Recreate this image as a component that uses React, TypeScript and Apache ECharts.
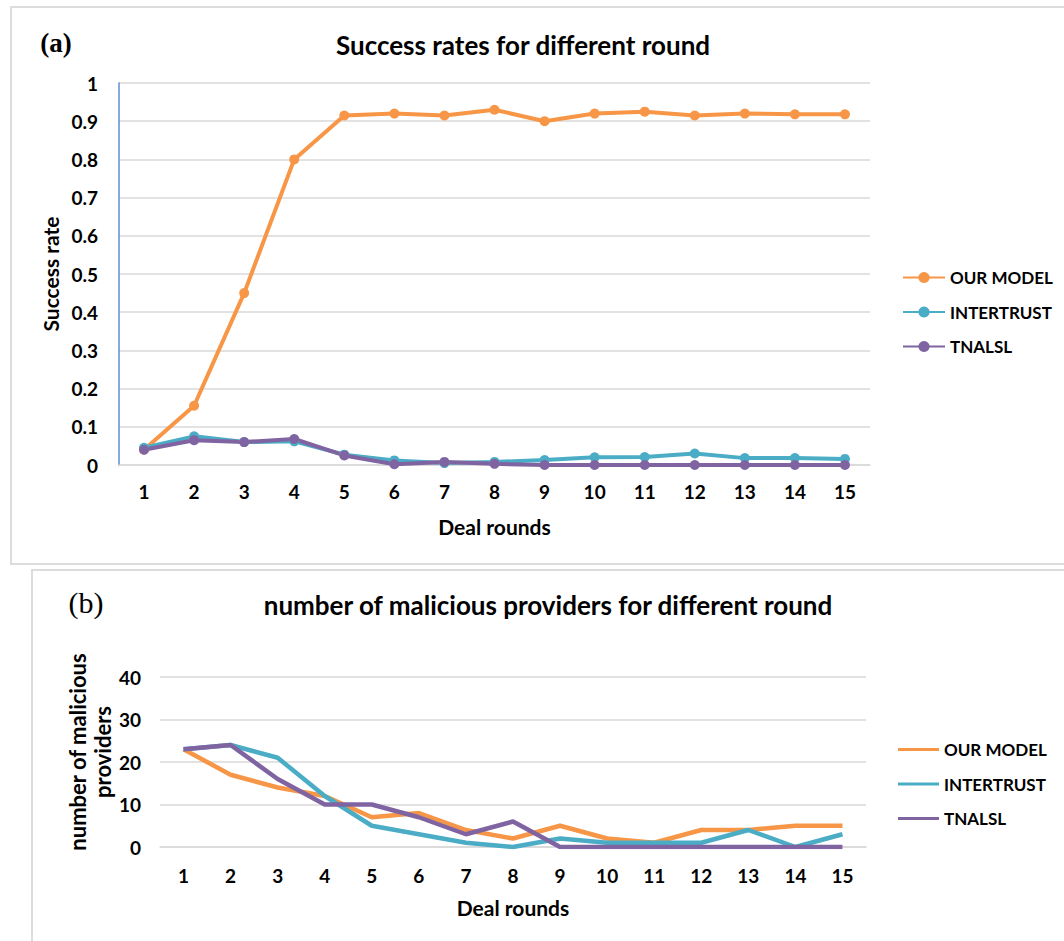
import React, { useEffect, useRef } from "react";
import * as echarts from "echarts";

const rounds = ["1", "2", "3", "4", "5", "6", "7", "8", "9", "10", "11", "12", "13", "14", "15"];
const seriesNames = ["OUR MODEL", "INTERTRUST", "TNALSL"];
const colors = ["#F79646", "#4BACC6", "#8064A2"];

const successOurModel = [0.04, 0.155, 0.45, 0.8, 0.915, 0.92, 0.915, 0.93, 0.9, 0.92, 0.925, 0.915, 0.92, 0.918, 0.918];
const successIntertrust = [0.045, 0.075, 0.06, 0.062, 0.027, 0.012, 0.005, 0.008, 0.013, 0.02, 0.021, 0.03, 0.018, 0.018, 0.016];
const successTnalsl = [0.04, 0.065, 0.06, 0.068, 0.025, 0.002, 0.008, 0.003, 0, 0, 0, 0, 0, 0, 0];

const maliciousOurModel = [23, 17, 14, 12, 7, 8, 4, 2, 5, 2, 1, 4, 4, 5, 5];
const maliciousIntertrust = [23, 24, 21, 12, 5, 3, 1, 0, 2, 1, 1, 1, 4, 0, 3];
const maliciousTnalsl = [23, 24, 16, 10, 10, 7, 3, 6, 0, 0, 0, 0, 0, 0, 0];

const FONT = "Lato, 'Open Sans', sans-serif";

export default function App() {
  const ref = useRef<HTMLDivElement>(null);
  useEffect(() => {
    if (!ref.current) return;
    const chart = echarts.init(ref.current, undefined, { renderer: "svg" });
    const topData = [successOurModel, successIntertrust, successTnalsl];
    const botData = [maliciousOurModel, maliciousIntertrust, maliciousTnalsl];
    const tick = { color: "#000", fontFamily: FONT, fontWeight: "bold" as const, fontSize: 19 };
    const grid = "#d9d9d9";
    const nameStyle = { color: "#000", fontFamily: FONT, fontWeight: "bold" as const, fontSize: 21 };
    const legendText = { color: "#000", fontFamily: FONT, fontWeight: "bold" as const, fontSize: 17 };
    chart.setOption({
      animation: false,
      backgroundColor: "#fff",
      textStyle: { fontFamily: FONT },
      grid: [
        { left: 119, top: 83, width: 751, height: 382 },
        { left: 160, top: 677, width: 706, height: 170 },
      ],
      xAxis: [
        {
          type: "category", gridIndex: 0, data: rounds, boundaryGap: true,
          axisLine: { show: true, lineStyle: { color: grid, width: 1.5 } },
          axisTick: { show: false },
          axisLabel: { ...tick, margin: 17 },
          name: "Deal rounds", nameLocation: "middle", nameGap: 51,
          nameTextStyle: nameStyle,
        },
        {
          type: "category", gridIndex: 1, data: rounds, boundaryGap: true,
          axisLine: { show: true, lineStyle: { color: grid, width: 1.5 } },
          axisTick: { show: false },
          axisLabel: { ...tick, margin: 19 },
          name: "Deal rounds", nameLocation: "middle", nameGap: 50,
          nameTextStyle: nameStyle,
        },
      ],
      yAxis: [
        {
          type: "value", gridIndex: 0, min: 0, max: 1, interval: 0.1,
          axisLine: { show: true, lineStyle: { color: "#5B8FD6", width: 1.5 } },
          axisTick: { show: false },
          splitLine: { lineStyle: { color: grid, width: 1.5 } },
          axisLabel: { ...tick, margin: 21 },
          name: "Success rate", nameLocation: "middle", nameRotate: 90, nameGap: 57,
          nameTextStyle: nameStyle,
        },
        {
          type: "value", gridIndex: 1, min: 0, max: 40, interval: 10,
          axisLine: { show: false },
          axisTick: { show: false },
          splitLine: { lineStyle: { color: grid, width: 1.5 } },
          axisLabel: { ...tick, margin: 19 },
        },
      ],
      legend: [
        {
          orient: "vertical", left: 897, top: 264, itemWidth: 42, itemHeight: 14, itemGap: 17.5,
          data: seriesNames,
          textStyle: legendText,
        },
        {
          orient: "vertical", left: 893, top: 736, itemWidth: 41, itemHeight: 14, itemGap: 17.5,
          data: seriesNames.map((n, i) => ({ name: n, icon: "path://M0,5.5L41,5.5L41,8.5L0,8.5Z", itemStyle: { color: colors[i] } })),
          textStyle: legendText,
        },
      ],
      series: [
        ...seriesNames.map((n, i) => ({
          name: n, type: "line", xAxisIndex: 0, yAxisIndex: 0, data: topData[i],
          symbol: "circle", symbolSize: 10, color: colors[i],
          lineStyle: { width: 4, color: colors[i] }, itemStyle: { color: colors[i] },
        })),
        ...seriesNames.map((n, i) => ({
          name: n, type: "line", xAxisIndex: 1, yAxisIndex: 1, data: botData[i],
          symbol: "none", showSymbol: false, color: colors[i],
          lineStyle: { width: 4.5, color: colors[i] }, itemStyle: { color: colors[i] },
        })),
      ],
      graphic: [
        { type: "rect", shape: { x: 11, y: 7, width: 1100, height: 557 }, style: { fill: "none", stroke: "#dcdcdc", lineWidth: 2 }, z: -10 },
        { type: "rect", shape: { x: 32, y: 570, width: 1100, height: 420 }, style: { fill: "none", stroke: "#dcdcdc", lineWidth: 2 }, z: -10 },
        { type: "text", x: 56, y: 43, style: { text: "(a)", font: "bold 27px 'Liberation Serif', serif", fill: "#000", align: "center", verticalAlign: "middle" } },
        { type: "text", x: 86, y: 602, style: { text: "(b)", font: "30px 'Liberation Serif', serif", fill: "#000", align: "center", verticalAlign: "middle" } },
        { type: "text", x: 523, y: 45, style: { text: "Success rates for different round", font: `bold 26px ${FONT}`, fill: "#000", align: "center", verticalAlign: "middle" } },
        { type: "text", x: 548, y: 605, style: { text: "number of malicious providers for different round", font: `bold 26px ${FONT}`, fill: "#000", align: "center", verticalAlign: "middle" } },
        {
          type: "text", x: 90, y: 752, rotation: Math.PI / 2,
          style: { text: "number of malicious\nproviders", font: `bold 22px ${FONT}`, lineHeight: 25, fill: "#000", align: "center", verticalAlign: "middle" },
        },
      ],
    });
    return () => chart.dispose();
  }, []);
  return <div ref={ref} style={{ position: "absolute", left: 0, top: 0, width: 1064, height: 941 }} />;
}
